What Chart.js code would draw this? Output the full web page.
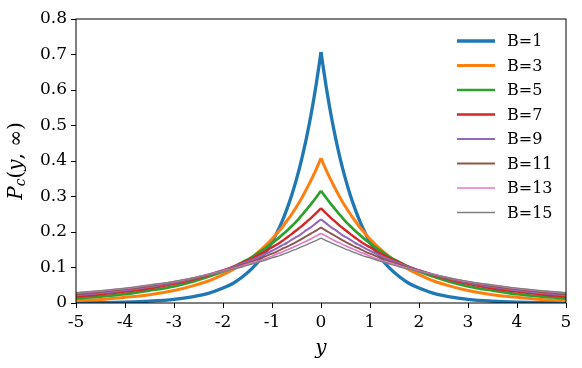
<!DOCTYPE html>
<html>
<head>
<meta charset="utf-8">
<script src="https://cdn.jsdelivr.net/npm/chart.js@4"></script>
<style>
  html, body { margin: 0; padding: 0; background: #fff; }
  #wrap { width: 582px; height: 368px; }
</style>
</head>
<body>
<div id="wrap"><canvas id="chart" width="582" height="368"></canvas></div>
<script>
// ─── DATA ────────────────────────────────────────────────────
// curves are symmetric in y, values read for y >= 0 and mirrored
const yPos = [0, 0.1, 0.2, 0.3, 0.4, 0.5, 0.6, 0.7, 0.8, 0.9, 1.0, 1.2, 1.4, 1.6, 1.8, 2.0, 2.3, 2.6, 3.0, 3.5, 4.0, 4.5, 5.0];

const b1  = [0.707, 0.614, 0.533, 0.463, 0.402, 0.349, 0.303, 0.263, 0.228, 0.198, 0.172, 0.130, 0.098, 0.074, 0.055, 0.042, 0.027, 0.018, 0.010, 0.005, 0.0025, 0.0012, 0.0006];
const b3  = [0.408, 0.376, 0.347, 0.320, 0.294, 0.271, 0.250, 0.231, 0.212, 0.196, 0.180, 0.153, 0.130, 0.111, 0.094, 0.080, 0.062, 0.049, 0.035, 0.023, 0.016, 0.010, 0.007];
const b5  = [0.316, 0.297, 0.279, 0.262, 0.246, 0.230, 0.216, 0.203, 0.191, 0.179, 0.168, 0.148, 0.130, 0.115, 0.101, 0.089, 0.074, 0.061, 0.047, 0.035, 0.025, 0.018, 0.013];
const b7  = [0.267, 0.253, 0.240, 0.228, 0.216, 0.205, 0.194, 0.184, 0.174, 0.165, 0.157, 0.141, 0.126, 0.114, 0.102, 0.092, 0.078, 0.067, 0.054, 0.041, 0.032, 0.024, 0.018];
const b9  = [0.236, 0.225, 0.214, 0.205, 0.195, 0.186, 0.178, 0.169, 0.162, 0.154, 0.147, 0.134, 0.122, 0.111, 0.101, 0.092, 0.080, 0.069, 0.057, 0.045, 0.036, 0.028, 0.022];
const b11 = [0.213, 0.204, 0.196, 0.188, 0.180, 0.172, 0.165, 0.158, 0.152, 0.145, 0.139, 0.128, 0.117, 0.108, 0.099, 0.091, 0.080, 0.070, 0.059, 0.048, 0.039, 0.031, 0.025];
const b13 = [0.196, 0.189, 0.181, 0.174, 0.168, 0.161, 0.155, 0.149, 0.143, 0.138, 0.132, 0.122, 0.113, 0.105, 0.097, 0.090, 0.080, 0.071, 0.060, 0.050, 0.041, 0.034, 0.028];
const b15 = [0.183, 0.176, 0.170, 0.164, 0.158, 0.152, 0.147, 0.141, 0.136, 0.131, 0.127, 0.118, 0.110, 0.102, 0.095, 0.088, 0.079, 0.071, 0.061, 0.051, 0.042, 0.035, 0.029];

const seriesLabels = ['B=1', 'B=3', 'B=5', 'B=7', 'B=9', 'B=11', 'B=13', 'B=15'];
const seriesValues = [b1, b3, b5, b7, b9, b11, b13, b15];
const seriesColors = ['#1f77b4', '#ff7f0e', '#2ca02c', '#d62728', '#9467bd', '#8c564b', '#e377c2', '#7f7f7f'];
const seriesWidths = [3.3, 3.0, 2.7, 2.4, 2.1, 1.9, 1.6, 1.4];

const xTicks = ['-5', '-4', '-3', '-2', '-1', '0', '1', '2', '3', '4', '5'];
const yTicks = ['0', '0.1', '0.2', '0.3', '0.4', '0.5', '0.6', '0.7', '0.8'];

const SERIF = '"DejaVu Serif", serif';

// ─── HELPERS ─────────────────────────────────────────────────
// each curve has a cusp at y=0, so left and right halves are drawn separately
function leftHalf(vals) {
  const pts = [];
  for (let i = yPos.length - 1; i >= 0; i--) pts.push({ x: -yPos[i], y: vals[i] });
  return pts;
}
function rightHalf(vals) {
  return yPos.map((y, i) => ({ x: y, y: vals[i] }));
}

const framePlugin = {
  id: 'frame',
  afterDraw(chart) {
    const { ctx, chartArea: a } = chart;
    ctx.save();
    ctx.strokeStyle = '#000';
    ctx.lineWidth = 1;
    ctx.strokeRect(a.left, a.top, a.right - a.left, a.bottom - a.top);

    // legend inside the plot, upper right
    ctx.font = '16px ' + SERIF;
    ctx.textBaseline = 'middle';
    ctx.fillStyle = '#000';
    seriesLabels.forEach((lab, i) => {
      const yy = 41 + i * 24.5;
      ctx.strokeStyle = seriesColors[i];
      ctx.lineWidth = seriesWidths[i];
      ctx.beginPath();
      ctx.moveTo(457, yy);
      ctx.lineTo(495, yy);
      ctx.stroke();
      ctx.fillText(lab, 507, yy + 1);
    });

    // x axis title
    ctx.font = 'italic 20px ' + SERIF;
    ctx.textAlign = 'center';
    ctx.fillText('y', (a.left + a.right) / 2, 349);

    // y axis title: P_c(y, ∞)
    ctx.translate(17, (a.top + a.bottom) / 2);
    ctx.rotate(-Math.PI / 2);
    ctx.textAlign = 'left';
    const parts = [
      { t: 'P', f: 'italic 20px ', dy: 0 },
      { t: 'c', f: 'italic 14px ', dy: 4 },
      { t: '(', f: '20px ', dy: 0 },
      { t: 'y', f: 'italic 20px ', dy: 0 },
      { t: ', ', f: '20px ', dy: 0 },
      { t: '\u221E', f: '20px ', dy: 0 },
      { t: ')', f: '20px ', dy: 0 }
    ];
    let total = 0;
    parts.forEach(p => { ctx.font = p.f + SERIF; p.w = ctx.measureText(p.t).width; total += p.w; });
    let x = -total / 2;
    parts.forEach(p => {
      ctx.font = p.f + SERIF;
      ctx.fillText(p.t, x, p.dy);
      x += p.w;
    });
    ctx.restore();
  }
};

// ─── CHART ───────────────────────────────────────────────────
const datasets = [];
seriesValues.forEach((vals, i) => {
  [leftHalf(vals), rightHalf(vals)].forEach(pts => {
    datasets.push({
      label: seriesLabels[i],
      data: pts,
      borderColor: seriesColors[i],
      borderWidth: seriesWidths[i],
      pointRadius: 0,
      cubicInterpolationMode: 'monotone',
      fill: false,
      order: seriesValues.length - i
    });
  });
});

new Chart(document.getElementById('chart').getContext('2d'), {
  type: 'line',
  data: { datasets },
  options: {
    responsive: false,
    animation: false,
    layout: { padding: { left: 0, right: 16, top: 19, bottom: 0 } },
    plugins: { legend: { display: false }, tooltip: { enabled: false } },
    scales: {
      x: {
        type: 'linear',
        min: -5, max: 5,
        afterFit(s) { s.height = 65; },
        grid: { display: true, drawOnChartArea: false, drawTicks: true, tickLength: 5, tickColor: '#000' },
        border: { display: false },
        ticks: {
          stepSize: 1, padding: 4, color: '#000', maxRotation: 0,
          font: { family: SERIF, size: 17 },
          callback: (v) => xTicks[Math.round(v) + 5]
        }
      },
      y: {
        min: 0, max: 0.8,
        afterFit(s) { s.width = 76; },
        grid: { display: true, drawOnChartArea: false, drawTicks: true, tickLength: 5, tickColor: '#000' },
        border: { display: false },
        ticks: {
          stepSize: 0.1, padding: 4, color: '#000',
          font: { family: SERIF, size: 17 },
          callback: (v) => yTicks[Math.round(v * 10)]
        }
      }
    }
  },
  plugins: [framePlugin]
});
</script>
</body>
</html>
